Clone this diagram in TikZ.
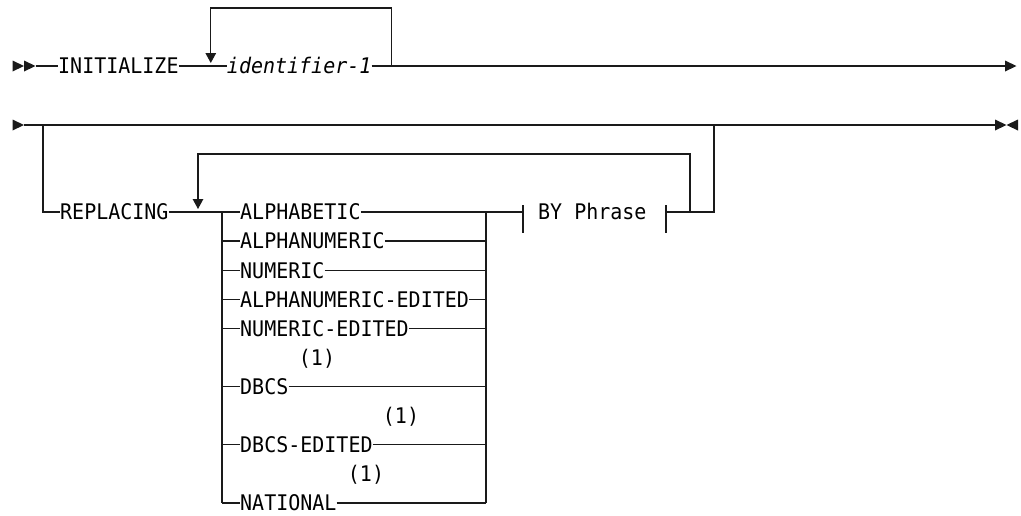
\documentclass[tikz,border=0pt]{standalone}
\usepackage{fontspec}
\setmonofont[FakeStretch=0.93]{DejaVu Sans Mono}
\usetikzlibrary{arrows.meta,positioning}
\definecolor{railink}{HTML}{1A1A1A}

\begin{document}
\begin{tikzpicture}[
    x=1pt, y=-1pt,
    font=\ttfamily\fontsize{21.5}{25}\selectfont,
    kw/.style={inner sep=0pt, text height=15.6pt, text depth=0pt, anchor=west},
    rail/.style={draw=railink, line width=1.3pt},
    back/.style={rail, -{Triangle[length=10pt, width=10.5pt]}},
    rtri/.pic={\fill[railink] (0,-5.5) -- (11.5,0) -- (0,5.5) -- cycle;},
    ltri/.pic={\fill[railink] (11.5,-5.5) -- (0,0) -- (11.5,5.5) -- cycle;}
  ]
    \useasboundingbox (0,0) rectangle (1021,515);
    % first line
    \pic at (12.5,66) {rtri};
    \pic at (24,66) {rtri};
    \coordinate (start1) at (35.5,66);
    \node[kw] (init) at (58,66) {INITIALIZE};
    \node[kw, right=48pt of init] (ident) {\itshape identifier-1};
    \coordinate (end1) at (1005,66);
    \pic at (end1) {rtri};
    \draw[rail] (start1) -- (init.west);
    \draw[rail] (init.east) -- (ident.west);
    \draw[rail] (ident.east) -- (end1);
    \coordinate (loop1r) at ([xshift=20pt]ident.east);
    \coordinate (loop1l) at ([xshift=-16pt]ident.west);
    \draw[back] (loop1r) -- ++(0,-58) -| ([yshift=3pt]loop1l);
    % second line
    \pic at (12.5,125) {rtri};
    \coordinate (start2) at (24,125);
    \coordinate (end2) at (995,125);
    \pic at (end2) {rtri};
    \pic at (1006.5,125) {ltri};
    \draw[rail] (start2) -- (end2);
    \coordinate (br) at (43,125);
    \node[kw] (repl) at (60,212) {REPLACING};
    \draw[rail] (br) |- (repl.west);
    % choices
    \coordinate (cl) at (222,212);
    \coordinate (cr) at (486,212);
    \coordinate (rep) at (198,212);
    \draw[rail] (repl.east) -- (cl);
    \foreach \txt/\k/\nm in {ALPHABETIC/0/alpha, ALPHANUMERIC/1/alnum, NUMERIC/2/num,
        ALPHANUMERIC-EDITED/3/alnumed, NUMERIC-EDITED/4/numed, DBCS/6/dbcs,
        DBCS-EDITED/8/dbcsed, NATIONAL/10/natl} {
      \node[kw] (\nm) at (240,212+29.1*\k) {\txt};
      \draw[rail] (\nm.west -| cl) -- (\nm.west);
      \draw[rail] (\nm.east) -- (\nm.east -| cr);
    }
    \draw[rail] (cl) -- (natl.west -| cl);
    \draw[rail] (cr) -- (natl.east -| cr);
    \node[kw, anchor=center] (fn1) at (317,357.5) {(1)};
    \node[kw, anchor=center] (fn2) at (401,415.7) {(1)};
    \node[kw, anchor=center] (fn3) at (366,473.9) {(1)};
    % BY Phrase
    \coordinate (tl) at (523,212);
    \coordinate (tr) at (666,212);
    \node[kw, right=15pt of tl] (by) {BY Phrase};
    \draw[rail] (cr) -- (tl);
    \draw[rail] ([yshift=7pt]tl) -- ([yshift=-21pt]tl);
    \draw[rail] ([yshift=7pt]tr) -- ([yshift=-21pt]tr);
    \coordinate (loop2) at (690,212);
    \coordinate (out) at (714,212);
    \draw[rail] (tr) -- (out) -- (out |- br);
    \draw[back] (loop2) -- ++(0,-58) -| ([yshift=3pt]rep);
\end{tikzpicture}
\end{document}
